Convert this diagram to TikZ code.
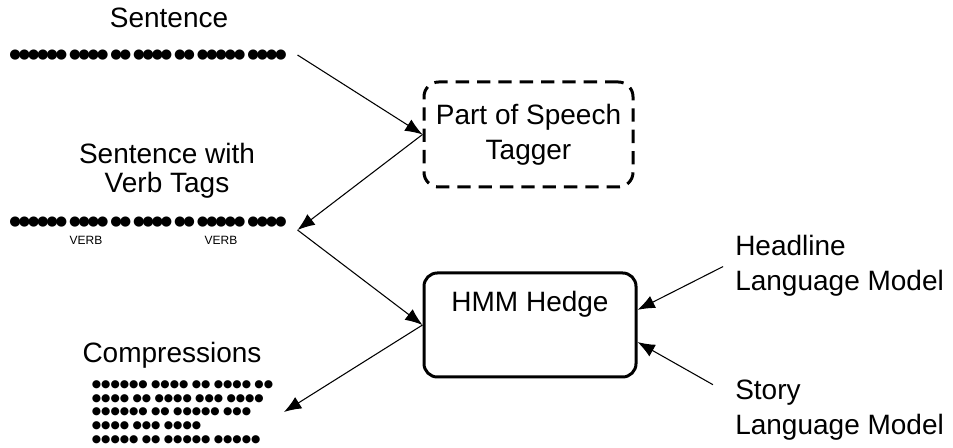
\documentclass[tikz,border=0pt]{standalone}
\usepackage{fontspec}
\setmainfont{Liberation Sans}
\newfontfamily\dotfont{DejaVu Sans}
\newfontfamily\tightdots[LetterSpace=-18]{DejaVu Sans}
\usetikzlibrary{arrows.meta,positioning}
\tikzset{>={Latex[length=13pt,width=10pt]}}

\begin{document}
\begin{tikzpicture}[x=0.75pt,y=-0.75pt,
    every node/.style={font=\fontsize{21}{26}\selectfont},
    words/.style={font=\tightdots\fontsize{10}{10.3}\selectfont,inner xsep=8pt,inner ysep=0pt},
    box/.style={draw,line width=2.25pt,inner ysep=0pt}]
  \useasboundingbox (0,0) rectangle (953,448);

  % the two sentences and the compressions
  \node at (169,18) {Sentence};
  \node[words] (sent) at (148,55) {●●●●●● ●●●● ●● ●●●● ●● ●●●●● ●●●●};
  \node[align=center,font=\fontsize{21}{21.75}\selectfont] at (167,171) {Sentence with\\Verb Tags};
  \node[words] (tagged) at (148,222) {●●●●●● ●●●● ●● ●●●● ●● ●●●●● ●●●●};
  \node[font=\fontsize{9}{10}\selectfont] (verba) at (86,240) {VERB};
  \node[font=\fontsize{9}{10}\selectfont] (verbb) at (221,240) {VERB};
  \node at (172,355) {Compressions};
  \node[words,font=\dotfont\fontsize{8}{10.3}\selectfont,align=left,anchor=west] (comp) at (81,412)
    {●●●●●● ●●●● ●● ●●●● ●●\\●●●● ●● ●●●● ●●● ●●●●\\●●●●●● ●● ●●●●● ●●●\\●●●● ●●● ●●●●\\●●●●● ●● ●●●●● ●●●●●};

  % tagger and HMM Hedge
  \node[box,dashed,dash pattern=on 10pt off 6pt,rounded corners=11pt,align=center,
    minimum width=156.75pt,minimum height=78.75pt] (tagger) at (528.5,134.5) {Part of Speech\\Tagger};
  \node[box,rounded corners=10pt,minimum width=159pt,
    text height=29.25pt,text depth=48.75pt] (hmm) at (530,325) {HMM Hedge};

  % language models
  \node[align=left,anchor=west,inner sep=0pt] (headline) at (735,266) {Headline\\Language Model};
  \node[align=left,anchor=west,inner sep=0pt] (story) at (735,410) {Story\\Language Model};

  \draw[->,line width=0.8pt] (sent.east) -- (tagger.west);
  \draw[->,line width=0.8pt] (tagger.west) -- ([yshift=-6pt]tagged.east);
  \draw[->,line width=0.8pt] ([yshift=-6pt]tagged.east) -- (hmm.west);
  \draw[->,line width=0.8pt] (hmm.west) -- (comp.east);
  \draw[->,line width=0.8pt,shorten <=10pt] (headline.177) -- (hmm.8);
  \draw[->,line width=0.8pt,shorten <=19pt] (story.173) -- (hmm.-9);
\end{tikzpicture}
\end{document}
